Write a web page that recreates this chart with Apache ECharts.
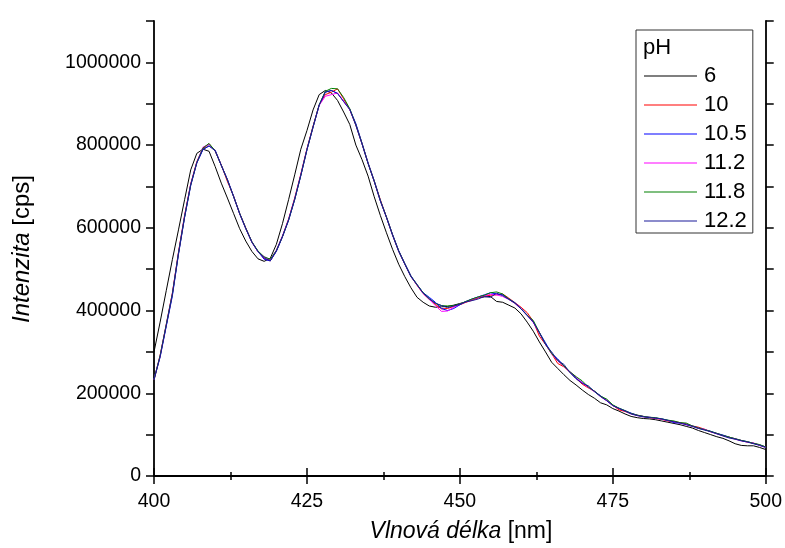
<!DOCTYPE html>
<html>
<head>
<meta charset="utf-8">
<script src="https://cdn.jsdelivr.net/npm/echarts@6/dist/echarts.min.js"></script>
<style>
    html, body { margin: 0; padding: 0; background: #fff; }
    #chart-ph-main { width: 785px; height: 548px; }
</style>
</head>
<body>
<div id="chart-ph-main"></div>
<script>
// vlnova delka [nm]
let wavelength = [
    400, 401, 402, 403, 404, 405, 406, 407, 408, 409,
    410, 411, 412, 413, 414, 415, 416, 417, 418, 419,
    420, 421, 422, 423, 424, 425, 426, 427, 428, 429,
    430, 431, 432, 433, 434, 435, 436, 437, 438, 439,
    440, 441, 442, 443, 444, 445, 446, 447, 448, 449,
    450, 451, 452, 453, 454, 455, 456, 457, 458, 459,
    460, 461, 462, 463, 464, 465, 466, 467, 468, 469,
    470, 471, 472, 473, 474, 475, 476, 477, 478, 479,
    480, 481, 482, 483, 484, 485, 486, 487, 488, 489,
    490, 491, 492, 493, 494, 495, 496, 497, 498, 499,
    500,
];

// intenzita v tisicich cps
let pH6 = [
    300, 372, 448, 523, 595, 668, 740, 780, 790, 785,
    748, 708, 672, 635, 598, 568, 543, 525, 519, 526,
    560, 610, 668, 728, 790, 835, 885, 922, 932, 926,
    908, 880, 850, 800, 765, 725, 675, 630, 588, 548,
    512, 482, 455, 432, 420, 411, 408, 409, 410, 413,
    417, 421, 427, 431, 433, 434, 422, 420, 413, 406,
    392, 372, 350, 324, 300, 275, 260, 245, 231, 220,
    208, 197, 188, 177, 172, 163, 157, 150, 144, 141,
    139, 138, 136, 133, 130, 127, 124, 120, 116, 110,
    105, 100, 95, 91, 85, 78, 74, 73, 73, 69,
    64,
];
let pH10 = [
    232, 292, 366, 442, 541, 630, 706, 760, 791, 803,
    786, 752, 712, 677, 635, 600, 566, 543, 526, 520,
    544, 579, 621, 672, 730, 791, 846, 897, 922, 928,
    936, 912, 886, 849, 804, 756, 713, 668, 626, 583,
    544, 513, 483, 461, 441, 427, 415, 404, 405, 410,
    414, 420, 425, 431, 435, 437, 438, 440, 430, 419,
    408, 395, 374, 338, 318, 296, 272, 264, 251, 236,
    222, 213, 205, 193, 183, 171, 160, 156, 151, 147,
    144, 141, 139, 137, 133, 132, 129, 126, 121, 118,
    113, 107, 103, 98, 94, 90, 86, 82, 79, 75,
    70,
];
let pH10_5 = [
    235, 288, 362, 435, 536, 625, 702, 757, 789, 798,
    788, 751, 717, 677, 635, 599, 566, 543, 524, 520,
    543, 578, 618, 668, 726, 788, 843, 896, 928, 932,
    925, 906, 887, 852, 805, 757, 714, 666, 626, 584,
    545, 514, 484, 463, 443, 432, 420, 405, 400, 405,
    414, 422, 428, 433, 438, 443, 440, 438, 428, 419,
    405, 389, 373, 347, 322, 296, 283, 266, 251, 236,
    226, 215, 205, 194, 183, 171, 164, 158, 152, 147,
    144, 142, 140, 138, 135, 129, 128, 125, 121, 116,
    112, 108, 103, 99, 94, 90, 86, 83, 79, 75,
    70,
];
let pH11_2 = [
    233, 290, 366, 441, 540, 629, 706, 759, 795, 802,
    786, 751, 716, 676, 634, 598, 565, 542, 530, 523,
    546, 581, 621, 671, 729, 790, 844, 896, 918, 922,
    926, 906, 886, 848, 803, 756, 712, 665, 625, 582,
    543, 512, 482, 462, 441, 427, 412, 398, 399, 408,
    416, 421, 427, 432, 436, 439, 438, 434, 427, 417,
    404, 388, 371, 346, 318, 295, 278, 265, 252, 240,
    225, 214, 204, 192, 182, 170, 163, 157, 150, 146,
    143, 142, 140, 137, 134, 131, 128, 124, 120, 115,
    113, 107, 102, 97, 93, 89, 85, 82, 80, 74,
    69,
];
let pH11_8 = [
    233, 291, 366, 440, 539, 627, 704, 758, 793, 804,
    786, 751, 716, 676, 635, 599, 566, 544, 530, 524,
    545, 579, 619, 669, 727, 789, 844, 897, 930, 937,
    936, 915, 888, 849, 804, 756, 713, 666, 626, 583,
    544, 513, 483, 463, 443, 429, 417, 412, 411, 412,
    416, 422, 428, 433, 437, 443, 445, 440, 428, 418,
    404, 389, 376, 347, 319, 296, 280, 266, 252, 240,
    230, 215, 205, 193, 186, 172, 164, 158, 151, 147,
    144, 142, 141, 138, 135, 133, 129, 128, 121, 116,
    112, 108, 103, 98, 94, 90, 86, 83, 79, 76,
    70,
];
let pH12_2 = [
    232, 288, 363, 438, 537, 626, 704, 757, 790, 798,
    786, 751, 716, 676, 634, 598, 565, 542, 528, 520,
    544, 579, 619, 669, 727, 789, 844, 897, 928, 932,
    925, 905, 886, 848, 803, 755, 712, 665, 625, 582,
    543, 512, 482, 462, 442, 428, 418, 412, 407, 411,
    415, 421, 424, 428, 434, 432, 442, 436, 427, 418,
    404, 388, 372, 346, 318, 300, 279, 270, 250, 235,
    224, 218, 204, 192, 182, 170, 163, 157, 150, 146,
    143, 141, 140, 138, 134, 131, 128, 124, 120, 115,
    111, 107, 102, 97, 92, 89, 85, 82, 78, 74,
    69,
];

let phNames = ["6", "10", "10.5", "11.2", "11.8", "12.2"];
let phColors = ["#000000", "#ff0000", "#0000ff", "#ff00ff", "#008000", "#1a1a99"];
let phData = [pH6, pH10, pH10_5, pH11_2, pH11_8, pH12_2];

let fontMain = '"Liberation Sans", Arial, sans-serif';
let myChart = echarts.init(document.getElementById("chart-ph-main"));

function toPairs(values) {
    return values.map((v, i) => [wavelength[i], v * 1000]);
}

let axisCommon = {
    axisLine: { lineStyle: { color: "#000", width: 1.8 } },
    axisTick: { inside: false, length: 8, lineStyle: { color: "#000", width: 1.5 } },
    splitLine: { show: false },
};

let option = {
    animation: false,
    backgroundColor: "#fff",
    textStyle: { fontFamily: fontMain },
    grid: { left: 154, right: 18, top: 21, bottom: 72, containLabel: false },
    xAxis: [
        Object.assign({}, axisCommon, {
            type: "value",
            position: "bottom",
            min: 400,
            max: 500,
            interval: 25,
            minorTick: { show: true, splitNumber: 2, length: 4, lineStyle: { color: "#000", width: 1.5 } },
            axisLabel: { color: "#000", fontSize: 19.5, margin: 16, fontFamily: fontMain },
        }),
        Object.assign({}, axisCommon, {
            type: "value",
            position: "top",
            min: 400,
            max: 500,
            interval: 25,
            minorTick: { show: true, splitNumber: 2, length: 4, lineStyle: { color: "#000", width: 1.5 } },
            axisLabel: { show: false },
        }),
    ],
    yAxis: [
        Object.assign({}, axisCommon, {
            type: "value",
            position: "left",
            min: 0,
            max: 1100000,
            interval: 100000,
            axisLabel: {
                color: "#000",
                fontSize: 19.5,
                margin: 13,
                fontFamily: fontMain,
                formatter: function (v) {
                    return v % 200000 === 0 ? String(v) : "";
                },
            },
        }),
        Object.assign({}, axisCommon, {
            type: "value",
            position: "right",
            min: 0,
            max: 1100000,
            interval: 100000,
            axisLabel: { show: false },
        }),
    ],
    legend: {
        left: 636,
        top: 30,
        orient: "vertical",
        padding: [35, 6, 1, 8],
        borderColor: "#333",
        borderWidth: 1,
        icon: "rect",
        itemWidth: 53,
        itemHeight: 1,
        itemGap: 7,
        data: phNames,
        textStyle: { color: "#000", fontSize: 22, lineHeight: 22, padding: [0, 0, 0, 2], fontFamily: fontMain },
    },
    graphic: [
        {
            type: "text",
            left: 643,
            top: 37,
            style: { text: "pH", fill: "#000", font: '22px "Liberation Sans", Arial, sans-serif' },
        },
        {
            type: "text",
            x: 461,
            y: 532,
            style: {
                text: "{i|Vlnová délka} [nm]",
                fill: "#000",
                fontSize: 23,
                fontFamily: fontMain,
                align: "center",
                verticalAlign: "middle",
                rich: { i: { fontStyle: "italic", fontSize: 23, fontFamily: fontMain } },
            },
        },
        {
            type: "text",
            x: 22,
            y: 249,
            rotation: Math.PI / 2,
            style: {
                text: "{i|Intenzita} [cps]",
                fill: "#000",
                fontSize: 24,
                fontFamily: fontMain,
                align: "center",
                verticalAlign: "middle",
                rich: { i: { fontStyle: "italic", fontSize: 24, fontFamily: fontMain } },
            },
        },
    ],
    series: phNames.map((name, i) => ({
        name: name,
        type: "line",
        xAxisIndex: 0,
        yAxisIndex: 0,
        symbol: "none",
        showSymbol: false,
        color: phColors[i],
        lineStyle: { width: 1, color: phColors[i] },
        data: toPairs(phData[i]),
    })),
};

option && myChart.setOption(option);
</script>
</body>
</html>
